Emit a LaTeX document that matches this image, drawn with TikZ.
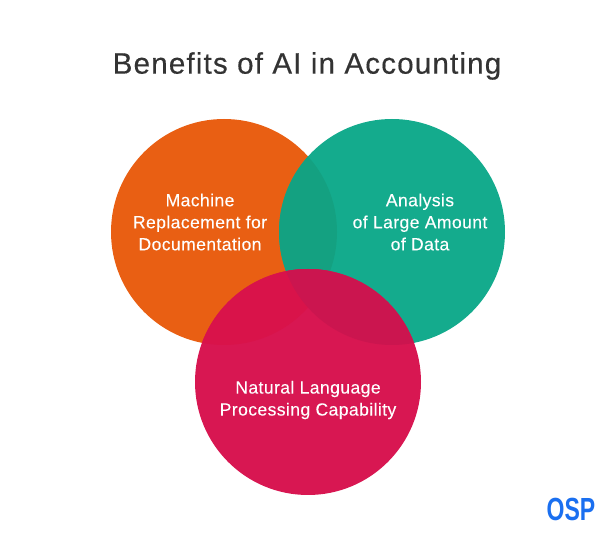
\documentclass[tikz,border=0pt]{standalone}
\usepackage{fontspec}
\setmainfont{Liberation Sans}
\newfontfamily\titlefont[LetterSpace=3.9,FakeBold=0.4]{Liberation Sans}
\newfontfamily\blobfont[LetterSpace=2.2,FakeBold=0.1]{Liberation Sans}
\newfontfamily\logofont[FakeStretch=0.72]{Liberation Sans}
\usetikzlibrary{positioning}
\definecolor{blobmachine}{HTML}{E95F13}
\definecolor{blobanalysis}{HTML}{14AB8D}
\definecolor{bloblanguage}{HTML}{D81752}
\definecolor{lensgreen}{HTML}{14A181}
\definecolor{lensorange}{HTML}{D9134A}
\definecolor{lensred}{HTML}{CB154F}
\definecolor{titlegrey}{HTML}{333333}
\definecolor{logoblue}{HTML}{1A6FF0}

\begin{document}
\begin{tikzpicture}[x=0.75pt, y=-0.75pt,
		blob/.style={circle, minimum size=169.5pt, inner sep=0pt},
		blobtext/.style={text=white, align=center, font=\blobfont\fontsize{13.2}{16.5}\selectfont},
		title/.style={text=titlegrey, font=\titlefont\fontsize{22.2}{26}\selectfont},
		logo/.style={text=logoblue, font=\logofont\bfseries\fontsize{24}{28}\selectfont}
	]
	\useasboundingbox (0,0) rectangle (615,541);
	\node[blob, fill=blobmachine] (machine) at (224,232) {};
	\node[blob, fill=blobanalysis] (analysis) [right=126pt of machine.center, anchor=center] {};
	\begin{scope}
	\clip (machine.center) circle [radius=84.75pt];
	\fill[lensgreen] (analysis.center) circle [radius=84.75pt];
	\end{scope}
	\node[blob, fill=bloblanguage] (language) at (308,382) {};
	\begin{scope}
	\clip (language.center) circle [radius=84.75pt];
	\fill[lensorange] (machine.center) circle [radius=84.75pt];
	\fill[lensred] (analysis.center) circle [radius=84.75pt];
	\end{scope}
	\node[title] (heading) at (307,66) {Benefits of AI in Accounting};
	\node[blobtext] (machinetext) at (200,222) {Machine\\Replacement for\\Documentation};
	\node[blobtext] (analysistext) at (420,222) {Analysis\\of Large Amount\\of Data};
	\node[blobtext] (languagetext) at (308,400) {Natural Language\\Processing Capability};
	\node[logo] (osp) at (571,509) {OSP};
\end{tikzpicture}
\end{document}
